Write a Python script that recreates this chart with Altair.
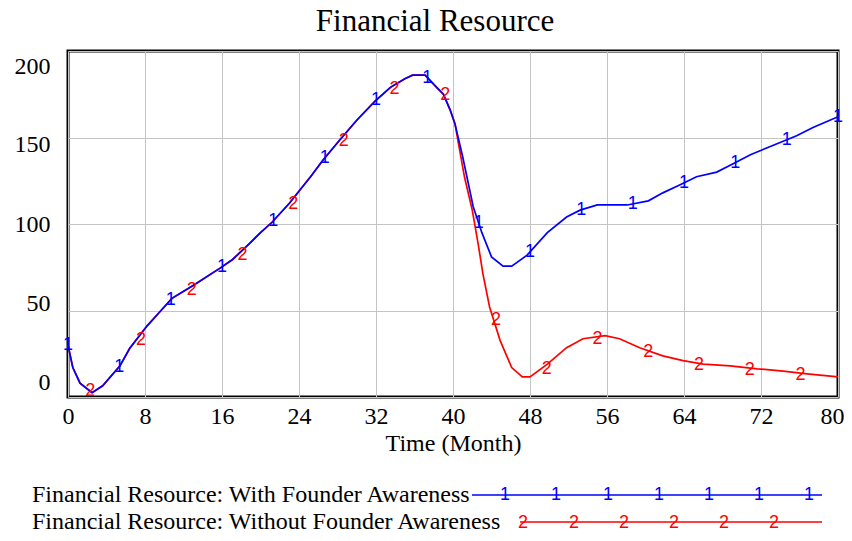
import altair as alt
import numpy as np
import pandas as pd

# ---------------- data ----------------
t_with = [0, 0.5, 1.25, 2.5, 3.6, 5.4, 6.4, 8.2, 9.5, 10.8, 13, 15.8, 17.1, 18.9, 20,
          21.2, 23, 25.3, 26.5, 28.3, 30, 31.9, 33.5, 35, 35.8, 37.1, 38.3, 39, 39.7,
          40.2, 41, 42.1, 43, 44, 45.2, 46.1, 47.7, 49.8, 51.8, 53.2, 55, 58.1, 60.3,
          61.8, 63.6, 65.3, 67.4, 68.8, 70.9, 72.9, 75.7, 77.4, 80]
v_with = [30, 17, 8, 2.5, 6.5, 18, 28, 41, 49, 57, 64.5, 74.5, 79.5, 89, 95,
          101, 112, 128, 137, 149, 160, 171, 179, 184, 186, 186, 179, 175, 166,
          158, 139, 110, 95, 81, 75.6, 75.6, 82, 95, 104, 108, 111, 111, 113.4,
          118, 122.7, 127.3, 130, 134, 140, 144.7, 151, 155.8, 162]

t_without = [0, 0.5, 1.25, 2.5, 3.6, 5.4, 6.4, 8.2, 9.5, 10.8, 13, 15.8, 17.1, 18.9, 20,
             21.2, 23, 25.3, 26.5, 28.3, 30, 31.9, 33.5, 35, 35.8, 37.1, 38.3, 39, 39.7,
             40.2, 41.2, 42, 42.6, 43.1, 43.8, 44.9, 46.1, 47.2, 48, 49.8, 51.8, 53.5,
             55.8, 57.3, 59.4, 61.8, 63.9, 66, 68.8, 71.6, 74.3, 76.8, 80]
v_without = [30, 17, 8, 2.5, 6.5, 18, 28, 41, 49, 57, 64.5, 74.5, 79.5, 89, 95,
             101, 112, 128, 137, 149, 160, 171, 179, 184, 186, 186, 179, 175, 166,
             158, 127, 108, 89, 71.5, 52, 32.6, 17, 11.6, 11.6, 19, 28.5, 33.7,
             35.5, 33.7, 28.5, 23.8, 21, 19, 18, 16.3, 15, 13.4, 11.6]

series_names = ["Financial Resource: With Founder Awareness",
                "Financial Resource: Without Founder Awareness"]
x_ticks = list(range(0, 81, 4))
y_ticks = [0, 50, 100, 150, 200]

BLUE = "#0000ff"
RED = "#ff0000"
SERIF = "Liberation Serif"
SANS = "Liberation Sans"

df_with = pd.DataFrame({"t": t_with, "v": v_with})
df_without = pd.DataFrame({"t": t_without, "v": v_without})

# marker decorations (Vensim-style numbered markers every few months)
mk_t1 = np.arange(16) * 80 / 15
mk_t2 = 2 + np.arange(15) * 5.27
df_mk1 = pd.DataFrame({"t": mk_t1, "v": np.interp(mk_t1, t_with, v_with), "s": "1"})
df_mk2 = pd.DataFrame({"t": mk_t2, "v": np.interp(mk_t2, t_without, v_without), "s": "2"})

xs = alt.Scale(domain=[0, 80], nice=False, zero=False)
ys = alt.Scale(domain=[0, 200], nice=False)

x_axis = alt.Axis(values=x_ticks, title="Time (Month)",
                  labelExpr="datum.value % 8 == 0 ? datum.label : ''",
                  grid=True, ticks=False, domain=False, labelPadding=7,
                  titlePadding=3, labelFont=SERIF, labelFontSize=24,
                  titleFont=SERIF, titleFontSize=24, titleFontWeight="normal",
                  labelColor="black", titleColor="black", labelFlush=False,
                  gridColor="#c4c4c4", gridWidth=1,
                  labelOffset={"condition": {"test": "datum.value == 80", "value": -6},
                               "value": 0})
y_axis = alt.Axis(values=y_ticks, title=None, grid=True, ticks=False, domain=False,
                  labelPadding=18, labelFont=SERIF, labelFontSize=24,
                  labelColor="black", gridColor="#c4c4c4", gridWidth=1,
                  labelOffset={"condition": [
                      {"test": "datum.value == 200", "value": 15},
                      {"test": "datum.value == 150", "value": 7},
                      {"test": "datum.value == 50", "value": -7},
                      {"test": "datum.value == 0", "value": -15}],
                      "value": 0})

line_red = alt.Chart(df_without).mark_line(color=RED, strokeWidth=1.7).encode(
    x=alt.X("t:Q", scale=xs, axis=x_axis),
    y=alt.Y("v:Q", scale=ys, axis=y_axis),
)
line_blue = alt.Chart(df_with).mark_line(color=BLUE, strokeWidth=1.7).encode(
    x=alt.X("t:Q", scale=xs), y=alt.Y("v:Q", scale=ys))

mk_red = alt.Chart(df_mk2).mark_text(color=RED, font=SANS, fontSize=18,
                                     baseline="middle", align="center", dx=3, dy=2).encode(
    x=alt.X("t:Q", scale=xs), y=alt.Y("v:Q", scale=ys), text="s:N")
mk_blue = alt.Chart(df_mk1).mark_text(color=BLUE, font=SANS, fontSize=18,
                                      baseline="middle", align="center").encode(
    x=alt.X("t:Q", scale=xs), y=alt.Y("v:Q", scale=ys), text="s:N")

# ---------------- legend drawn below the plot ----------------
one = pd.DataFrame({"k": [0]})
legend_layers = []
rows = [(series_names[0], BLUE, 444, 404, "1", [437, 488, 540, 591, 641, 691, 741], 0),
        (series_names[1], RED, 471, 452, "2", [455, 506, 556, 606, 656, 706], 1)]
for name, col, yy, x0, sym, mpos, mdy in rows:
    legend_layers.append(alt.Chart(one).mark_text(
        text=name, font=SERIF, fontSize=24, align="left", baseline="middle",
        color="black").encode(x=alt.value(-36), y=alt.value(yy)))
    legend_layers.append(alt.Chart(one).mark_rule(color=col, strokeWidth=1.7).encode(
        x=alt.value(x0), x2=alt.value(754), y=alt.value(yy)))
    for px in mpos:
        legend_layers.append(alt.Chart(one).mark_text(
            text=sym, font=SANS, fontSize=18, color=col, align="center",
            baseline="middle").encode(x=alt.value(px), y=alt.value(yy + mdy)))

chart = alt.layer(line_red, line_blue, mk_red, mk_blue, *legend_layers).properties(
    width=770, height=346,
    autosize=alt.AutoSizeParams(type="none"),
    padding={"left": 60, "top": 43, "right": 6, "bottom": 136},
    title=alt.Title("Financial Resource", font=SERIF, fontSize=31,
                    fontWeight="normal", color="black", anchor="middle",
                    offset=13, dx=-18),
).configure(background="white").configure_view(stroke="black", strokeWidth=3)

chart.save("out.html", embed_options={"renderer": "svg", "actions": False})
